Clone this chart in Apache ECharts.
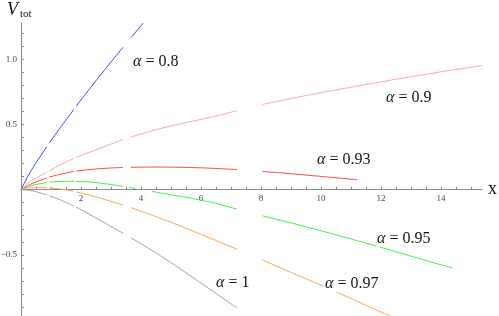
<!DOCTYPE html>
<html><head><meta charset="utf-8">
<script src="https://cdn.jsdelivr.net/npm/echarts@6/dist/echarts.min.js"></script>
<style>html,body{margin:0;padding:0;background:#fff}#c{width:499px;height:316px}</style>
</head><body><div id="c"></div>
<script>
// alpha = 0.8
const xA08 = [0,0.25,0.5,0.86,0.9,0.94,1.3,1.76,1.8,1.84,2.2,2.6,3,3.4,3.53,3.67,4,4.07];
const yA08 = [0,0.113,0.206,0.33,null,0.357,0.474,0.616,null,0.641,0.749,0.866,0.981,1.093,null,1.168,1.259,1.28];
// alpha = 0.9
const xA09 = [0,0.25,0.5,0.86,0.9,0.94,1.3,1.76,1.8,1.84,2.2,2.6,3,3.4,3.53,3.67,4,4.5,5,5.5,6,6.5,7,7.2,7.6,8.05,9,10,11,12,13,14,15,15.37];
const yA09 = [0,0.055,0.09,0.135,null,0.145,0.19,0.24,null,0.248,0.28,0.315,0.35,0.385,null,0.405,0.428,0.46,0.49,0.515,0.54,0.565,0.595,0.607,null,0.655,0.70,0.745,0.787,0.828,0.868,0.905,0.94,0.954];
// alpha = 0.93
const xA093 = [0,0.25,0.5,0.86,0.9,0.94,1.3,1.76,1.8,1.84,2.2,2.6,3,3.4,3.53,3.67,4,4.5,5,5.5,6,6.5,7,7.2,7.6,8.05,9,10,11,11.2];
const yA093 = [0,0.035,0.06,0.09,null,0.097,0.118,0.14,null,0.143,0.153,0.161,0.167,0.17,null,0.172,0.173,0.174,0.173,0.171,0.168,0.163,0.157,0.155,null,0.14,0.123,0.102,0.081,0.077];
// alpha = 0.95
const xA095 = [0,0.25,0.5,0.86,0.9,0.94,1.3,1.76,1.8,1.84,2.2,2.6,3,3.4,3.5,3.6,3.82,4.1,4.36,5,5.5,6,6.5,7,7.2,7.6,8.05,9,10,11,12,13,14,14.38];
const yA095 = [0,0.025,0.04,0.055,null,0.058,0.063,0.065,null,0.064,0.061,0.052,0.04,0.026,null,0.02,0.008,null,-0.013,-0.04,-0.058,-0.08,-0.105,-0.137,-0.149,null,-0.2,-0.255,-0.315,-0.378,-0.443,-0.51,-0.577,-0.6];
// alpha = 0.97
const xA097 = [0,0.25,0.5,0.86,0.9,0.94,1.3,1.76,1.8,1.84,2.2,2.6,3,3.4,3.53,3.67,4,4.5,5,5.5,6,6.5,7,7.2,7.6,8.05,9,10,11,12,12.35];
const yA097 = [0,0.013,0.019,0.017,null,0.015,0.006,-0.012,null,-0.017,-0.037,-0.062,-0.09,-0.118,null,-0.138,-0.165,-0.207,-0.25,-0.296,-0.342,-0.39,-0.438,-0.456,null,-0.54,-0.635,-0.733,-0.835,-0.94,-0.975];
// alpha = 1
const xA1 = [0,0.25,0.5,0.86,0.9,0.94,1.3,1.76,1.8,1.84,2.2,2.6,3,3.4,3.53,3.67,4,4.5,5,5.5,6,6.5,7,7.2];
const yA1 = [0,-0.004,-0.015,-0.04,null,-0.047,-0.077,-0.126,null,-0.135,-0.178,-0.23,-0.283,-0.333,null,-0.37,-0.415,-0.485,-0.56,-0.637,-0.717,-0.797,-0.877,-0.908];

const xTickVals = [0.5,1,1.5,2,2.5,3,3.5,4,4.5,5,5.5,6,6.5,7,7.5,8,8.5,9,9.5,10,10.5,11,11.5,12,12.5,13,13.5,14,14.5,15];
const xLabelVals = [2,4,6,8,10,12,14];
const yTickVals = [-0.9,-0.8,-0.7,-0.6,-0.5,-0.4,-0.3,-0.2,-0.1,0.1,0.2,0.3,0.4,0.5,0.6,0.7,0.8,0.9,1.0,1.1,1.2];
const yLabelVals = [-0.5,0.5,1.0];
const yMin = -0.97, yMax = 1.28;

const seriesDefs = [
  {name:'α = 0.8', xs:xA08, ys:yA08, color:'#4a4af2'},
  {name:'α = 0.9', xs:xA09, ys:yA09, color:'#ffa8a8'},
  {name:'α = 0.93', xs:xA093, ys:yA093, color:'#ff4d4d'},
  {name:'α = 0.95', xs:xA095, ys:yA095, color:'#4ded4d'},
  {name:'α = 0.97', xs:xA097, ys:yA097, color:'#ffa54d'},
  {name:'α = 1', xs:xA1, ys:yA1, color:'#a6a6a6'}
];

const serif = 'Liberation Serif, DejaVu Serif, serif';
const axisCol = '#8a8a8a';
const gridTop = 23, gridBottom = 0, H = 316;
const plotH = H - gridTop - gridBottom;
// distance from grid bottom up to y = 0 (so the x axis sits on y = 0)
const xAxisOffset = -plotH * (0 - yMin) / (yMax - yMin);

function lbl(text, x, y) {
  return {type:'text', x:x, y:y, z:100,
    style:{text:text, font:'16px ' + serif, fill:'#111', verticalAlign:'middle', align:'left',
      rich:{i:{fontStyle:'italic', fontFamily:serif, fontSize:16, fill:'#111'}, n:{fontFamily:serif, fontSize:16, fill:'#111'}},
      backgroundColor:'#fff', padding:[0,1]}};
}
function alphaText(v){ return '{i|α}{n| = ' + v + '}'; }

const chart = echarts.init(document.getElementById('c'), null, {renderer:'canvas'});
chart.setOption({
  animation:false,
  backgroundColor:'#fff',
  grid:{left:21, right:17, top:gridTop, bottom:gridBottom, containLabel:false, outerBoundsMode:'none'},
  xAxis:{type:'value', min:0, max:15.37, position:'bottom', offset:xAxisOffset,
    axisLine:{onZero:false, lineStyle:{color:axisCol, width:1}},
    axisTick:{show:true, inside:true, length:3, customValues:xTickVals, lineStyle:{color:axisCol}},
    axisLabel:{customValues:xLabelVals, margin:4, fontFamily:serif, fontSize:9, color:'#444'},
    splitLine:{show:false}},
  yAxis:{type:'value', min:yMin, max:yMax,
    axisLine:{show:true, onZero:false, lineStyle:{color:axisCol, width:1}},
    axisTick:{show:true, inside:true, length:3, customValues:yTickVals, lineStyle:{color:axisCol}},
    axisLabel:{customValues:yLabelVals, margin:4, fontFamily:serif, fontSize:9, color:'#444',
      formatter:function(v){ return v < 0 ? '\u2212' + Math.abs(v).toFixed(1) : v.toFixed(1); }},
    splitLine:{show:false}},
  series: seriesDefs.map(function(s){
    return {type:'line', name:s.name, showSymbol:false, symbol:'none', connectNulls:false, clip:true,
      lineStyle:{color:s.color, width:1}, itemStyle:{color:s.color},
      data: s.xs.map(function(x,i){ return [x, s.ys[i] === null ? '-' : s.ys[i]]; })};
  }),
  graphic:[
    {type:'text', x:7, y:1, z:100, style:{text:'V', font:'italic 18px ' + serif, fill:'#111'}},
    {type:'text', x:20, y:9, z:100, style:{text:'tot', font:'11px ' + serif, fill:'#111'}},
    {type:'text', x:488, y:180, z:100, style:{text:'x', font:'18px ' + serif, fill:'#111'}},
    lbl(alphaText('0.8'), 132, 62),
    lbl(alphaText('0.9'), 385, 98),
    lbl(alphaText('0.93'), 316, 160),
    lbl(alphaText('0.95'), 376, 239),
    lbl(alphaText('0.97'), 324, 284),
    lbl(alphaText('1'), 215, 283)
  ]
});
</script></body></html>
